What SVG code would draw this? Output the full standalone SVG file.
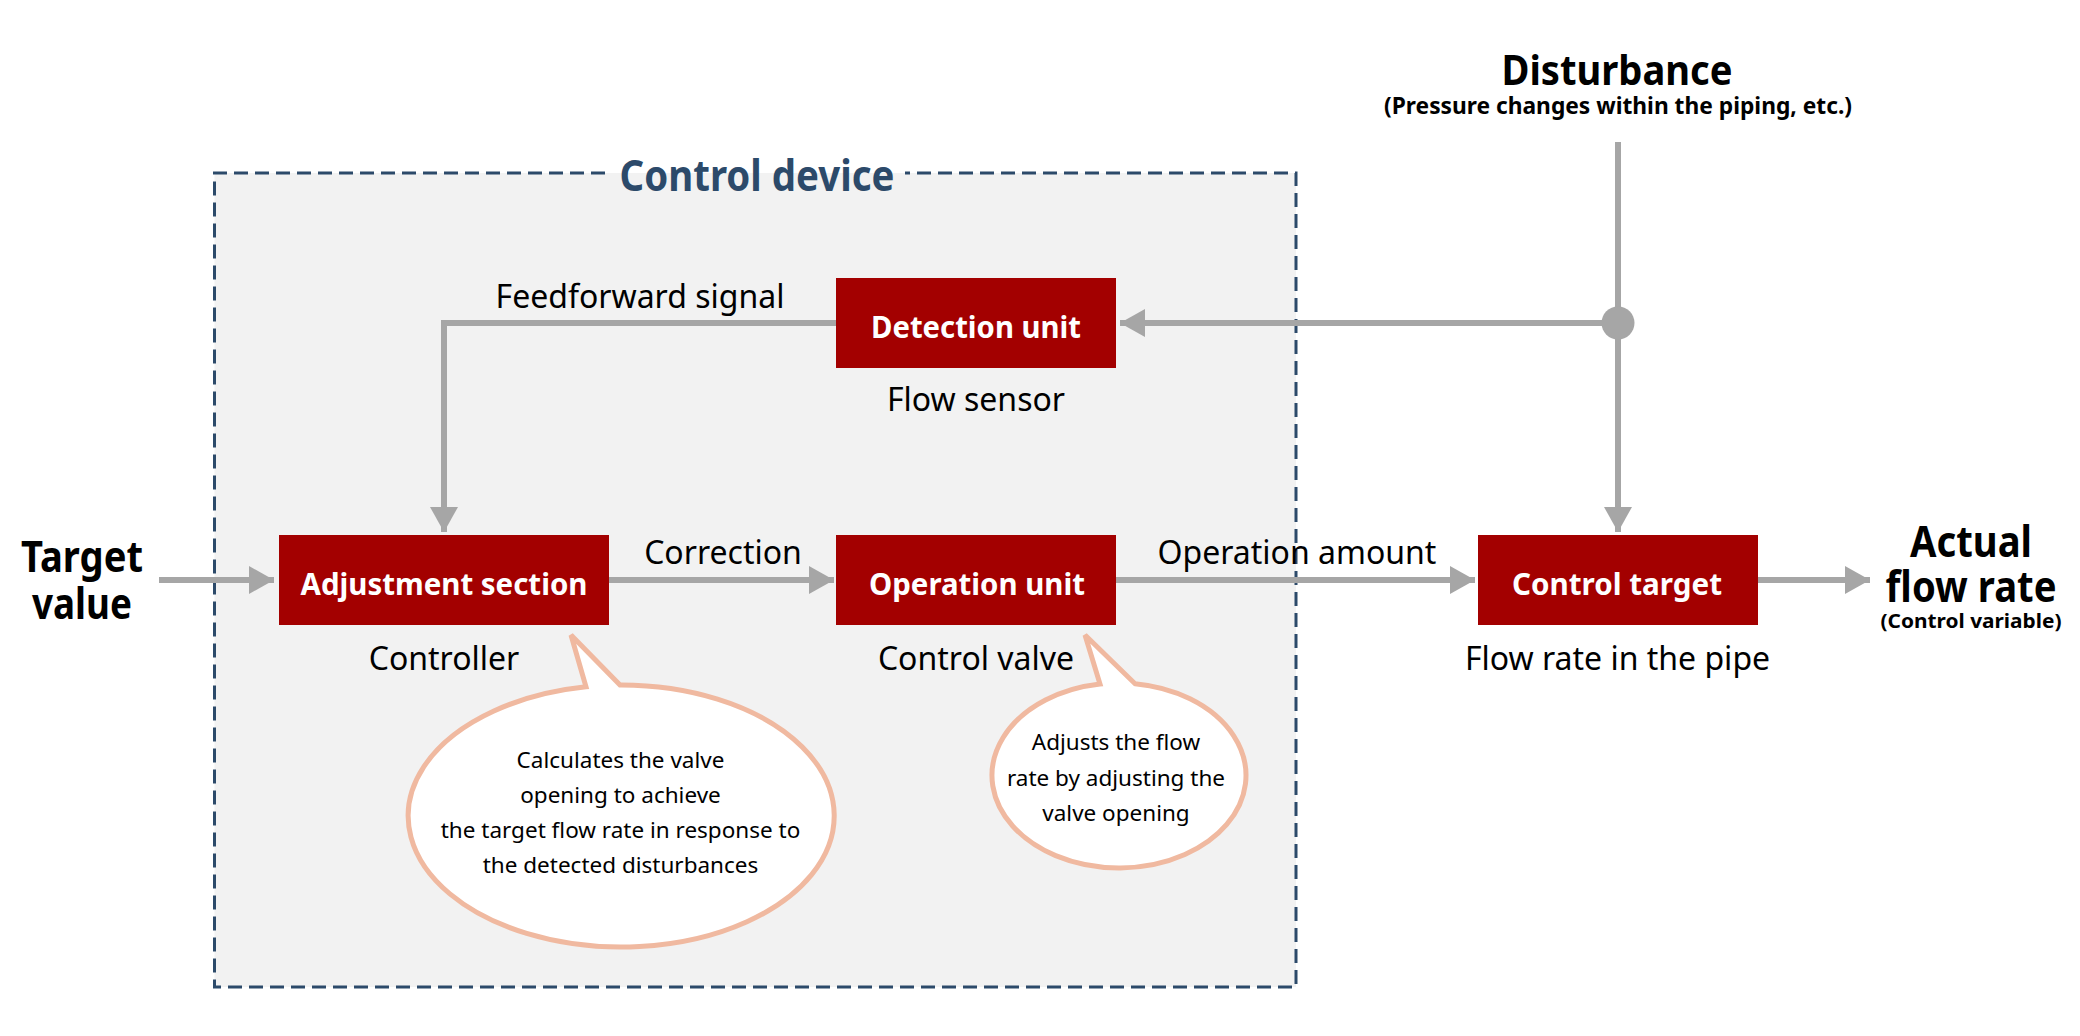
<svg xmlns="http://www.w3.org/2000/svg" width="2080" height="1036" viewBox="0 0 2080 1036">
<style>
text{font-family:"Noto Sans","DejaVu Sans",sans-serif;text-anchor:middle;fill:#000}
.lbl{font-size:32px}
.bt{font-size:31px;font-weight:bold;fill:#fff}
.big{font-size:43px;font-weight:bold}
.sub{font-weight:bold}
.note{font-size:22.5px}
.box{fill:#a30000}
.conn{fill:none;stroke:#a6a6a6;stroke-width:6}
.bubble{fill:#fff;stroke:#f0b9a0;stroke-width:5;stroke-linejoin:miter}
</style>
<defs>
<marker id="ah" markerUnits="userSpaceOnUse" markerWidth="26" markerHeight="28" refX="25" refY="14" orient="auto">
<path d="M0,0 L25,14 L0,28 Z" fill="#a6a6a6"/>
</marker>
</defs>
<rect width="2080" height="1036" fill="#fff"/>
<g id="control-device">
<rect x="214.5" y="173" width="1081.5" height="814" fill="#f2f2f2"/>
<path d="M605,173 H214.5 V987 H1296 V173 H905" fill="none" stroke="#2c4a6a" stroke-width="3" stroke-dasharray="14 7"/>
<text x="757" y="191" class="big" style="fill:#2c4a6a" textLength="275" lengthAdjust="spacingAndGlyphs">Control device</text>
</g>
<g id="connectors">
<path class="conn" d="M159,580 H274" marker-end="url(#ah)"/>
<path class="conn" d="M609,580 H834" marker-end="url(#ah)"/>
<path class="conn" d="M1116,580 H1475" marker-end="url(#ah)"/>
<path class="conn" d="M1758,580 H1870" marker-end="url(#ah)"/>
<path class="conn" d="M1618,142 V532" marker-end="url(#ah)"/>
<path class="conn" d="M1618,323 H1120" marker-end="url(#ah)"/>
<path class="conn" d="M836,323 H444 V532" marker-end="url(#ah)"/>
<circle cx="1618" cy="323" r="16.5" fill="#a6a6a6"/>
</g>
<g id="target-value">
<text x="82" y="572" class="big" textLength="122" lengthAdjust="spacingAndGlyphs">Target</text>
<text x="82" y="619" class="big" textLength="100" lengthAdjust="spacingAndGlyphs">value</text>
</g>
<g id="disturbance">
<text x="1617" y="85" style="font-size:42px;font-weight:bold" textLength="231" lengthAdjust="spacingAndGlyphs">Disturbance</text>
<text x="1618" y="114" class="sub" style="font-size:24px" textLength="468" lengthAdjust="spacingAndGlyphs">(Pressure changes within the piping, etc.)</text>
</g>
<g id="detection-unit">
<rect class="box" x="836" y="278" width="280" height="90"/>
<text x="976" y="338" class="bt" textLength="210" lengthAdjust="spacingAndGlyphs">Detection unit</text>
<text x="976" y="411" class="lbl">Flow sensor</text>
</g>
<text x="640" y="308" class="lbl">Feedforward signal</text>
<g id="adjustment-section">
<rect class="box" x="279" y="535" width="330" height="90"/>
<text x="444" y="595" class="bt" textLength="287" lengthAdjust="spacingAndGlyphs">Adjustment section</text>
<text x="444" y="670" class="lbl">Controller</text>
</g>
<text x="723" y="564" class="lbl">Correction</text>
<g id="operation-unit">
<rect class="box" x="836" y="535" width="280" height="90"/>
<text x="977" y="595" class="bt" textLength="216" lengthAdjust="spacingAndGlyphs">Operation unit</text>
<text x="976" y="670" class="lbl">Control valve</text>
</g>
<text x="1297" y="564" class="lbl">Operation amount</text>
<g id="control-target">
<rect class="box" x="1478" y="535" width="280" height="90"/>
<text x="1617" y="595" class="bt" textLength="210" lengthAdjust="spacingAndGlyphs">Control target</text>
<text x="1617.5" y="670" class="lbl">Flow rate in the pipe</text>
</g>
<g id="actual-flow-rate">
<text x="1971" y="557" class="big" textLength="122" lengthAdjust="spacingAndGlyphs">Actual</text>
<text x="1971" y="602" class="big" textLength="171" lengthAdjust="spacingAndGlyphs">flow rate</text>
<text x="1971" y="628" class="sub" style="font-size:20px" textLength="181" lengthAdjust="spacingAndGlyphs">(Control variable)</text>
</g>
<g id="note-controller">
<path class="bubble" d="M620,685 A213,131 0 1 1 586,686.8 L571,635 Z"/>
<text x="620.5" y="768" class="note">Calculates the valve</text>
<text x="620.5" y="803" class="note">opening to achieve</text>
<text x="620.5" y="838" class="note">the target flow rate in response to</text>
<text x="620.5" y="873" class="note">the detected disturbances</text>
</g>
<g id="note-valve">
<path class="bubble" d="M1135,683.7 A127,92.5 0 1 1 1100,684 L1085,635 Z"/>
<text x="1116" y="750" class="note">Adjusts the flow</text>
<text x="1116" y="785.5" class="note">rate by adjusting the</text>
<text x="1116" y="821" class="note">valve opening</text>
</g>
</svg>
